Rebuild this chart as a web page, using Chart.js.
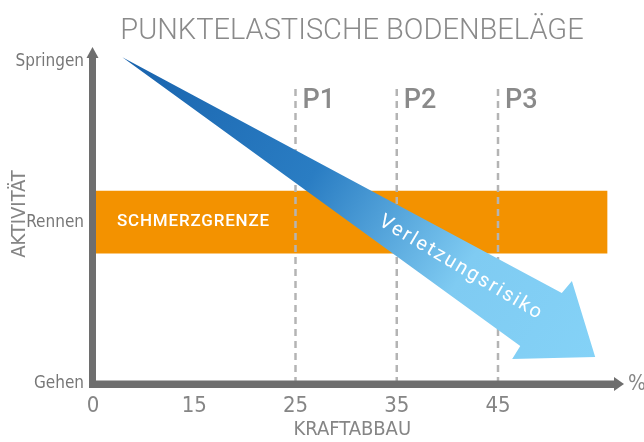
<!DOCTYPE html>
<html>
<head>
<meta charset="utf-8">
<script src="https://cdn.jsdelivr.net/npm/chart.js@4"></script>
<style>
  html, body { margin: 0; padding: 0; background: #fff; }
  #wrap { width: 644px; height: 442px; }
</style>
</head>
<body>
<div id="wrap"><canvas id="myChart"></canvas></div>
<script>
// data
const xLabels = ['0', '15', '25', '35', '45'];
const yLabels = ['Gehen', 'Rennen', 'Springen'];
const markerPos = [2, 3, 4];          // index of 25, 35, 45
const markerNames = ['P1', 'P2', 'P3'];
const markerTop = 1.84;
const bandRange = [0.81, 1.2];
const bandEnd = 5.08;
const arrowX = [0.29, 4.63, 4.73, 4.96, 4.14, 4.22];
const arrowY = [2.03, 0.565, 0.64, 0.168, 0.155, 0.236];

const FONT = 'Roboto, "Open Sans", sans-serif';
const NARROW = '"Liberation Sans Narrow", "DejaVu Sans Condensed", Roboto, sans-serif';
const GREY = '#6e6e6e';

const arrowData = arrowX.map((v, i) => ({ x: v, y: arrowY[i] }));
const bandData = [
  { x: 0, y: bandRange[0] }, { x: bandEnd, y: bandRange[0] },
  { x: bandEnd, y: bandRange[1] }, { x: 0, y: bandRange[1] }
];

function arrowGradient(context) {
  const chart = context.chart;
  if (!chart.chartArea) return '#2f86cb';
  const sx = chart.scales.x, sy = chart.scales.y;
  const g = chart.ctx.createLinearGradient(
    sx.getPixelForValue(arrowX[0]), sy.getPixelForValue(arrowY[0]),
    sx.getPixelForValue(arrowX[3]), sy.getPixelForValue(arrowY[3]));
  g.addColorStop(0, '#1963ad');
  g.addColorStop(0.4, '#2a7dc3');
  g.addColorStop(0.72, '#7fcbf2');
  g.addColorStop(1, '#84d2f7');
  return g;
}

const datasets = [{
  data: arrowData,
  showLine: true,
  fill: 'shape',
  backgroundColor: arrowGradient,
  borderColor: 'transparent',
  borderWidth: 0,
  pointRadius: 0,
  tension: 0
}];
markerPos.forEach(p => {
  datasets.push({
    data: [{ x: p, y: 0 }, { x: p, y: markerTop }],
    showLine: true,
    borderColor: '#b4b4b4',
    borderWidth: 2.5,
    borderDash: [7, 5],
    pointRadius: 0
  });
});
datasets.push({
  data: bandData,
  showLine: true,
  fill: 'shape',
  backgroundColor: '#f39200',
  borderColor: 'transparent',
  borderWidth: 0,
  pointRadius: 0,
  tension: 0
});

// axes arrows and texts
const decor = {
  id: 'decor',
  afterDatasetsDraw(chart) {
    const { ctx, chartArea: a, scales: { x, y } } = chart;
    ctx.save();
    const ax = a.left - 0.5, ay = a.bottom;
    ctx.fillStyle = GREY;
    // y axis
    ctx.fillRect(ax - 3.5, 56, 7, ay - 56 + 4);
    ctx.beginPath();
    ctx.moveTo(ax, 47); ctx.lineTo(ax + 6, 58); ctx.lineTo(ax - 6, 58); ctx.closePath(); ctx.fill();
    // x axis
    ctx.fillRect(ax - 3.5, ay - 3.5, 616 - ax + 3, 7.5);
    ctx.beginPath();
    ctx.moveTo(624, ay); ctx.lineTo(614, ay - 7); ctx.lineTo(614, ay + 7); ctx.closePath(); ctx.fill();

    // title
    ctx.fillStyle = '#8a8a8a';
    ctx.font = '300 29px ' + FONT;
    ctx.textAlign = 'center';
    ctx.textBaseline = 'middle';
    ctx.fillText('PUNKTELASTISCHE BODENBELÄGE', 352, 32);

    // % sign
    ctx.fillStyle = '#858585';
    ctx.font = '21px ' + NARROW;
    ctx.textAlign = 'left';
    ctx.fillText('%', 628, ay + 1);

    // axis titles
    ctx.font = '20px ' + NARROW;
    ctx.textAlign = 'center';
    ctx.fillText('KRAFTABBAU', (a.left + a.right) / 2 - 4, 430);
    ctx.save();
    ctx.translate(20, 214);
    ctx.rotate(-Math.PI / 2);
    ctx.fillText('AKTIVITÄT', 0, 0);
    ctx.restore();

    // marker labels
    ctx.fillStyle = '#8a8a8a';
    ctx.font = '500 27px ' + FONT;
    ctx.textAlign = 'left';
    markerPos.forEach((p, i) => {
      ctx.fillText(markerNames[i], x.getPixelForValue(p) + 7, y.getPixelForValue(markerTop) + 13);
    });

    // band label
    ctx.fillStyle = '#fff';
    ctx.font = '500 17px ' + FONT;
    ctx.letterSpacing = '0.8px';
    ctx.fillText('SCHMERZGRENZE', a.left + 24, y.getPixelForValue((bandRange[0] + bandRange[1]) / 2));

    // arrow label
    const x0 = x.getPixelForValue(arrowX[0]), y0 = y.getPixelForValue(arrowY[0]);
    const x1 = x.getPixelForValue(arrowX[3]), y1 = y.getPixelForValue(arrowY[3]);
    ctx.save();
    ctx.translate(461, 268);
    ctx.rotate(Math.atan2(y1 - y0, x1 - x0) - 0.03);
    ctx.font = '400 20px ' + FONT;
    ctx.letterSpacing = '2px';
    ctx.textAlign = 'center';
    ctx.fillText('Verletzungsrisiko', 0, 0);
    ctx.restore();
    ctx.restore();
  }
};

new Chart(document.getElementById('myChart'), {
  type: 'scatter',
  data: { datasets },
  options: {
    responsive: true,
    maintainAspectRatio: false,
    animation: false,
    events: [],
    layout: { padding: { top: 54, right: 24.5, left: 0, bottom: 0 } },
    plugins: { legend: { display: false }, tooltip: { enabled: false }, title: { display: false } },
    scales: {
      x: {
        type: 'linear', min: 0, max: 5.2,
        grid: { display: false, drawTicks: false },
        border: { display: false },
        afterFit: s => { s.height = 58; },
        afterBuildTicks: s => { s.ticks = xLabels.map((_, i) => ({ value: i })); },
        ticks: {
          padding: 9, color: '#858585',
          font: { family: NARROW, size: 22 },
          callback: v => xLabels[v]
        }
      },
      y: {
        type: 'linear', min: 0, max: 2.05,
        grid: { display: false, drawTicks: false },
        border: { display: false },
        afterFit: s => { s.width = 93; },
        afterBuildTicks: s => { s.ticks = yLabels.map((_, i) => ({ value: i })); },
        ticks: {
          padding: 9, color: '#777',
          font: { family: NARROW, size: 17 },
          callback: v => yLabels[v]
        }
      }
    }
  },
  plugins: [decor]
});
</script>
</body>
</html>
